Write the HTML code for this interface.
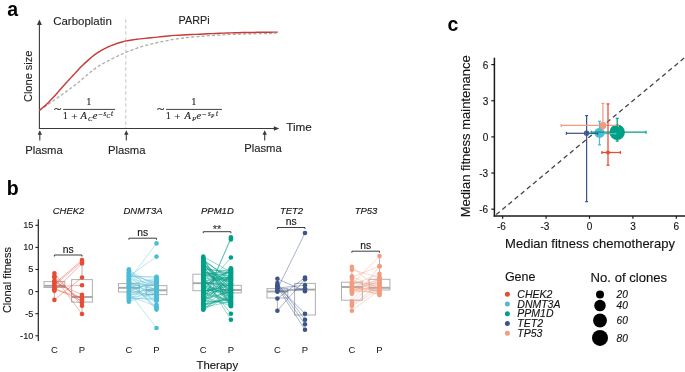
<!DOCTYPE html>
<html><head><meta charset="utf-8"><style>
html,body{margin:0;padding:0;background:#fff;width:685px;height:372px;overflow:hidden}
svg{display:block;will-change:transform}
</style></head><body>
<svg width="685" height="372" viewBox="0 0 685 372">
<rect width="685" height="372" fill="#fff"/>
<text x="7.20" y="15.90" font-size="19.5" text-anchor="start" font-weight="bold" font-style="normal" fill="#000" font-family='"Liberation Sans", sans-serif' >a</text>
<line x1="39.4" y1="24" x2="39.4" y2="128.9" stroke="#3a3a3a" stroke-width="1.1"/>
<polygon points="39.4,19.6 36.9,25 41.9,25" fill="#3a3a3a"/>
<line x1="38.9" y1="128.5" x2="275" y2="128.5" stroke="#3a3a3a" stroke-width="1.1"/>
<polygon points="279.3,128.5 273.8,126.2 273.8,130.8" fill="#3a3a3a"/>
<line x1="125.8" y1="19.3" x2="125.8" y2="128" stroke="#c4c4c4" stroke-width="1" stroke-dasharray="3.5,2.5"/>
<path d="M39.60,110.20 L40.37,109.68 L41.41,108.97 L42.66,108.13 L44.02,107.20 L45.43,106.24 L46.80,105.30 L48.16,104.35 L49.59,103.36 L51.05,102.33 L52.54,101.29 L54.03,100.24 L55.50,99.20 L56.96,98.17 L58.43,97.15 L59.90,96.12 L61.37,95.09 L62.84,94.05 L64.30,93.00 L65.75,91.95 L67.20,90.90 L68.65,89.85 L70.10,88.79 L71.55,87.70 L73.00,86.60 L74.46,85.47 L75.93,84.33 L77.39,83.17 L78.86,82.00 L80.33,80.81 L81.80,79.60 L83.27,78.35 L84.73,77.07 L86.20,75.76 L87.67,74.47 L89.13,73.20 L90.60,72.00 L92.07,70.85 L93.53,69.72 L95.00,68.62 L96.47,67.57 L97.93,66.56 L99.40,65.60 L100.88,64.70 L102.39,63.84 L103.89,63.04 L105.37,62.27 L106.81,61.52 L108.20,60.80 L109.49,60.12 L110.69,59.48 L111.84,58.87 L113.01,58.27 L114.25,57.66 L115.60,57.00 L117.10,56.29 L118.73,55.53 L120.42,54.75 L122.11,53.99 L123.76,53.26 L125.30,52.60 L126.73,52.01 L128.11,51.48 L129.43,50.98 L130.71,50.51 L131.97,50.05 L133.20,49.60 L134.37,49.15 L135.47,48.73 L136.54,48.31 L137.63,47.91 L138.76,47.51 L140.00,47.10 L141.35,46.69 L142.79,46.29 L144.28,45.88 L145.80,45.48 L147.32,45.09 L148.80,44.70 L150.25,44.32 L151.70,43.93 L153.15,43.56 L154.60,43.19 L156.05,42.84 L157.50,42.50 L158.96,42.19 L160.43,41.89 L161.90,41.61 L163.37,41.34 L164.84,41.07 L166.30,40.80 L167.75,40.52 L169.20,40.24 L170.65,39.97 L172.10,39.70 L173.55,39.44 L175.00,39.20 L176.46,38.97 L177.93,38.76 L179.40,38.56 L180.87,38.37 L182.34,38.18 L183.80,38.00 L185.27,37.82 L186.75,37.64 L188.23,37.46 L189.69,37.30 L191.12,37.14 L192.50,37.00 L193.64,36.89 L194.50,36.81 L195.33,36.74 L196.37,36.66 L197.84,36.55 L200.00,36.40 L202.98,36.18 L206.63,35.91 L210.71,35.62 L215.02,35.32 L219.32,35.04 L223.40,34.80 L227.21,34.60 L230.93,34.43 L234.65,34.28 L238.46,34.14 L242.44,34.02 L246.70,33.90 L251.64,33.79 L257.26,33.69 L263.06,33.59 L268.53,33.51 L273.18,33.45 L276.50,33.40" fill="none" stroke="#acacac" stroke-width="1.3" stroke-dasharray="3.1,2.1"/>
<path d="M39.60,110.30 L40.37,109.66 L41.41,108.80 L42.66,107.78 L44.02,106.62 L45.43,105.38 L46.80,104.10 L48.18,102.73 L49.65,101.21 L51.16,99.61 L52.67,97.98 L54.13,96.39 L55.50,94.90 L56.78,93.50 L57.99,92.13 L59.16,90.80 L60.30,89.50 L61.41,88.24 L62.50,87.00 L63.56,85.81 L64.56,84.69 L65.54,83.59 L66.52,82.50 L67.53,81.38 L68.60,80.20 L69.75,78.94 L70.96,77.62 L72.20,76.28 L73.44,74.93 L74.65,73.63 L75.80,72.40 L76.87,71.25 L77.90,70.15 L78.89,69.09 L79.87,68.06 L80.87,67.03 L81.90,66.00 L82.98,64.95 L84.09,63.90 L85.21,62.86 L86.33,61.84 L87.43,60.85 L88.50,59.90 L89.53,58.99 L90.53,58.13 L91.51,57.29 L92.49,56.47 L93.48,55.68 L94.50,54.90 L95.55,54.14 L96.60,53.39 L97.67,52.67 L98.76,51.96 L99.87,51.27 L101.00,50.60 L102.16,49.94 L103.36,49.29 L104.58,48.65 L105.80,48.04 L107.02,47.45 L108.20,46.90 L109.38,46.38 L110.56,45.89 L111.74,45.42 L112.88,44.99 L113.98,44.58 L115.00,44.20 L115.93,43.86 L116.78,43.55 L117.58,43.28 L118.36,43.01 L119.15,42.76 L120.00,42.50 L120.96,42.22 L122.03,41.93 L123.11,41.64 L124.13,41.38 L124.98,41.16 L125.60,41.00 L125.60,41.00 L126.44,40.87 L127.60,40.68 L128.97,40.46 L130.44,40.22 L131.89,40.00 L133.20,39.80 L134.26,39.64 L135.13,39.51 L135.98,39.39 L136.97,39.26 L138.26,39.10 L140.00,38.90 L142.30,38.65 L145.04,38.36 L148.08,38.05 L151.27,37.73 L154.46,37.40 L157.50,37.10 L160.33,36.81 L163.06,36.51 L165.78,36.21 L168.61,35.93 L171.65,35.65 L175.00,35.40 L178.75,35.17 L182.84,34.96 L187.13,34.76 L191.51,34.57 L195.84,34.39 L200.00,34.20 L203.99,34.01 L207.92,33.81 L211.81,33.61 L215.67,33.43 L219.52,33.25 L223.40,33.10 L227.20,32.97 L230.89,32.86 L234.57,32.76 L238.36,32.67 L242.37,32.58 L246.70,32.50 L251.79,32.42 L257.64,32.34 L263.71,32.26 L269.45,32.20 L274.33,32.14 L277.80,32.10" fill="none" stroke="#c73c36" stroke-width="1.45" stroke-linejoin="round"/>
<text x="53.20" y="24.80" font-size="11.2" text-anchor="start" font-weight="normal" font-style="normal" fill="#1e1e1e" stroke="#1e1e1e" stroke-width="0.12" font-family='"Liberation Sans", sans-serif' textLength="58.6" lengthAdjust="spacingAndGlyphs" >Carboplatin</text>
<text x="178.60" y="23.90" font-size="11.2" text-anchor="start" font-weight="normal" font-style="normal" fill="#1e1e1e" stroke="#1e1e1e" stroke-width="0.12" font-family='"Liberation Sans", sans-serif' textLength="31.0" lengthAdjust="spacingAndGlyphs" >PARPi</text>
<text x="0.00" y="0.00" font-size="11.6" text-anchor="middle" font-weight="normal" font-style="normal" fill="#1e1e1e" stroke="#1e1e1e" stroke-width="0.12" font-family='"Liberation Sans", sans-serif' textLength="51.5" lengthAdjust="spacingAndGlyphs" transform="translate(31.6,76.3) rotate(-90)">Clone size</text>
<text x="286.20" y="130.80" font-size="11.2" text-anchor="start" font-weight="normal" font-style="normal" fill="#1e1e1e" stroke="#1e1e1e" stroke-width="0.12" font-family='"Liberation Sans", sans-serif' textLength="25.6" lengthAdjust="spacingAndGlyphs" >Time</text>
<line x1="39.8" y1="133" x2="39.8" y2="140.5" stroke="#3a3a3a" stroke-width="1.1"/>
<polygon points="39.8,130.3 37.599999999999994,134.8 42.0,134.8" fill="#3a3a3a"/>
<text x="25.20" y="153.70" font-size="11.2" text-anchor="start" font-weight="normal" font-style="normal" fill="#1e1e1e" stroke="#1e1e1e" stroke-width="0.12" font-family='"Liberation Sans", sans-serif' textLength="37.6" lengthAdjust="spacingAndGlyphs" >Plasma</text>
<line x1="126.3" y1="133" x2="126.3" y2="140.5" stroke="#3a3a3a" stroke-width="1.1"/>
<polygon points="126.3,130.3 124.1,134.8 128.5,134.8" fill="#3a3a3a"/>
<text x="107.90" y="153.70" font-size="11.2" text-anchor="start" font-weight="normal" font-style="normal" fill="#1e1e1e" stroke="#1e1e1e" stroke-width="0.12" font-family='"Liberation Sans", sans-serif' textLength="37.6" lengthAdjust="spacingAndGlyphs" >Plasma</text>
<line x1="264.7" y1="133" x2="264.7" y2="140.5" stroke="#3a3a3a" stroke-width="1.1"/>
<polygon points="264.7,130.3 262.5,134.8 266.9,134.8" fill="#3a3a3a"/>
<text x="244.20" y="151.60" font-size="11.2" text-anchor="start" font-weight="normal" font-style="normal" fill="#1e1e1e" stroke="#1e1e1e" stroke-width="0.12" font-family='"Liberation Sans", sans-serif' textLength="37.6" lengthAdjust="spacingAndGlyphs" >Plasma</text>
<text x="54.00" y="113.2" font-size="13" fill="#1e1e1e" stroke="#1e1e1e" stroke-width="0.2" font-family='"Liberation Serif", serif' transform="translate(54.00,0) scale(1.05,1) translate(-54.00,0)">~</text>
<line x1="63.1" y1="109.4" x2="115.0" y2="109.4" stroke="#1e1e1e" stroke-width="0.85"/>
<text x="86.55" y="104.80" font-size="9.4" font-style="normal" fill="#1e1e1e" stroke="#1e1e1e" stroke-width="0.15" font-family='"Liberation Serif", serif'>1</text>
<text x="62.90" y="118.90" font-size="9.4" font-style="normal" fill="#1e1e1e" stroke="#1e1e1e" stroke-width="0.15" font-family='"Liberation Serif", serif'>1</text>
<text x="71.20" y="119.50" font-size="11.2" font-style="normal" fill="#1e1e1e" stroke="#1e1e1e" stroke-width="0.15" font-family='"Liberation Serif", serif'>+</text>
<text x="80.50" y="118.90" font-size="10.4" font-style="italic" fill="#1e1e1e" stroke="#1e1e1e" stroke-width="0.15" font-family='"Liberation Serif", serif'>A</text>
<text x="88.10" y="121.40" font-size="6.8" font-style="italic" fill="#1e1e1e" stroke="#1e1e1e" stroke-width="0.15" font-family='"Liberation Serif", serif'>C</text>
<text x="92.70" y="118.90" font-size="10.4" font-style="italic" fill="#1e1e1e" stroke="#1e1e1e" stroke-width="0.15" font-family='"Liberation Serif", serif'>e</text>
<text x="98.30" y="116.60" font-size="8" font-style="normal" fill="#1e1e1e" stroke="#1e1e1e" stroke-width="0.15" font-family='"Liberation Serif", serif'>−</text>
<text x="103.60" y="115.80" font-size="7.2" font-style="italic" fill="#1e1e1e" stroke="#1e1e1e" stroke-width="0.15" font-family='"Liberation Serif", serif'>s</text>
<text x="106.50" y="117.90" font-size="5.4" font-style="italic" fill="#1e1e1e" stroke="#1e1e1e" stroke-width="0.15" font-family='"Liberation Serif", serif'>C</text>
<text x="110.90" y="115.80" font-size="7.2" font-style="italic" fill="#1e1e1e" stroke="#1e1e1e" stroke-width="0.15" font-family='"Liberation Serif", serif'>t</text>
<text x="157.00" y="113.2" font-size="13" fill="#1e1e1e" stroke="#1e1e1e" stroke-width="0.2" font-family='"Liberation Serif", serif' transform="translate(157.00,0) scale(1.05,1) translate(-157.00,0)">~</text>
<line x1="166.1" y1="109.4" x2="222.0" y2="109.4" stroke="#1e1e1e" stroke-width="0.85"/>
<text x="191.55" y="104.80" font-size="9.4" font-style="normal" fill="#1e1e1e" stroke="#1e1e1e" stroke-width="0.15" font-family='"Liberation Serif", serif'>1</text>
<text x="165.90" y="118.90" font-size="9.4" font-style="normal" fill="#1e1e1e" stroke="#1e1e1e" stroke-width="0.15" font-family='"Liberation Serif", serif'>1</text>
<text x="174.20" y="119.50" font-size="11.2" font-style="normal" fill="#1e1e1e" stroke="#1e1e1e" stroke-width="0.15" font-family='"Liberation Serif", serif'>+</text>
<text x="184.50" y="118.90" font-size="10.4" font-style="italic" fill="#1e1e1e" stroke="#1e1e1e" stroke-width="0.15" font-family='"Liberation Serif", serif'>A</text>
<text x="192.10" y="121.40" font-size="6.8" font-style="italic" fill="#1e1e1e" stroke="#1e1e1e" stroke-width="0.15" font-family='"Liberation Serif", serif'>P</text>
<text x="196.50" y="118.90" font-size="10.4" font-style="italic" fill="#1e1e1e" stroke="#1e1e1e" stroke-width="0.15" font-family='"Liberation Serif", serif'>e</text>
<text x="202.10" y="116.60" font-size="8" font-style="normal" fill="#1e1e1e" stroke="#1e1e1e" stroke-width="0.15" font-family='"Liberation Serif", serif'>−</text>
<text x="208.00" y="115.80" font-size="7.2" font-style="italic" fill="#1e1e1e" stroke="#1e1e1e" stroke-width="0.15" font-family='"Liberation Serif", serif'>s</text>
<text x="210.90" y="117.90" font-size="5.4" font-style="italic" fill="#1e1e1e" stroke="#1e1e1e" stroke-width="0.15" font-family='"Liberation Serif", serif'>P</text>
<text x="216.10" y="115.80" font-size="7.2" font-style="italic" fill="#1e1e1e" stroke="#1e1e1e" stroke-width="0.15" font-family='"Liberation Serif", serif'>t</text>
<text x="6.80" y="194.80" font-size="19.5" text-anchor="start" font-weight="bold" font-style="normal" fill="#000" font-family='"Liberation Sans", sans-serif' >b</text>
<line x1="38.3" y1="219.3" x2="38.3" y2="341" stroke="#222" stroke-width="1.2"/>
<line x1="35.4" y1="225.30" x2="38.3" y2="225.30" stroke="#222" stroke-width="1.1"/>
<text x="33.40" y="228.20" font-size="9.2" text-anchor="end" font-weight="normal" font-style="normal" fill="#1a1a1a" stroke="#1a1a1a" stroke-width="0.12" font-family='"Liberation Sans", sans-serif' >15</text>
<line x1="35.4" y1="247.40" x2="38.3" y2="247.40" stroke="#222" stroke-width="1.1"/>
<text x="33.40" y="250.30" font-size="9.2" text-anchor="end" font-weight="normal" font-style="normal" fill="#1a1a1a" stroke="#1a1a1a" stroke-width="0.12" font-family='"Liberation Sans", sans-serif' >10</text>
<line x1="35.4" y1="269.50" x2="38.3" y2="269.50" stroke="#222" stroke-width="1.1"/>
<text x="33.40" y="272.40" font-size="9.2" text-anchor="end" font-weight="normal" font-style="normal" fill="#1a1a1a" stroke="#1a1a1a" stroke-width="0.12" font-family='"Liberation Sans", sans-serif' >5</text>
<line x1="35.4" y1="291.60" x2="38.3" y2="291.60" stroke="#222" stroke-width="1.1"/>
<text x="33.40" y="294.50" font-size="9.2" text-anchor="end" font-weight="normal" font-style="normal" fill="#1a1a1a" stroke="#1a1a1a" stroke-width="0.12" font-family='"Liberation Sans", sans-serif' >0</text>
<line x1="35.4" y1="313.70" x2="38.3" y2="313.70" stroke="#222" stroke-width="1.1"/>
<text x="33.40" y="316.60" font-size="9.2" text-anchor="end" font-weight="normal" font-style="normal" fill="#1a1a1a" stroke="#1a1a1a" stroke-width="0.12" font-family='"Liberation Sans", sans-serif' >-5</text>
<line x1="35.4" y1="335.80" x2="38.3" y2="335.80" stroke="#222" stroke-width="1.1"/>
<text x="33.40" y="338.70" font-size="9.2" text-anchor="end" font-weight="normal" font-style="normal" fill="#1a1a1a" stroke="#1a1a1a" stroke-width="0.12" font-family='"Liberation Sans", sans-serif' >-10</text>
<text x="0.00" y="0.00" font-size="11" text-anchor="middle" font-weight="normal" font-style="normal" fill="#111" stroke="#111" stroke-width="0.12" font-family='"Liberation Sans", sans-serif' transform="translate(10.6,280.1) rotate(-90)">Clonal fitness</text>
<text x="217.30" y="369.10" font-size="11.2" text-anchor="middle" font-weight="normal" font-style="normal" fill="#111" stroke="#111" stroke-width="0.12" font-family='"Liberation Sans", sans-serif' textLength="41.6" lengthAdjust="spacingAndGlyphs" >Therapy</text>
<text x="68.50" y="213.70" font-size="9.5" text-anchor="middle" font-weight="normal" font-style="italic" fill="#111" stroke="#111" stroke-width="0.12" font-family='"Liberation Sans", sans-serif' >CHEK2</text>
<text x="54.40" y="352.80" font-size="9.5" text-anchor="middle" font-weight="normal" font-style="normal" fill="#111" font-family='"Liberation Sans", sans-serif' >C</text>
<text x="82.00" y="352.80" font-size="9.5" text-anchor="middle" font-weight="normal" font-style="normal" fill="#111" font-family='"Liberation Sans", sans-serif' >P</text>
<text x="143.00" y="213.70" font-size="9.5" text-anchor="middle" font-weight="normal" font-style="italic" fill="#111" stroke="#111" stroke-width="0.12" font-family='"Liberation Sans", sans-serif' >DNMT3A</text>
<text x="128.90" y="352.80" font-size="9.5" text-anchor="middle" font-weight="normal" font-style="normal" fill="#111" font-family='"Liberation Sans", sans-serif' >C</text>
<text x="156.50" y="352.80" font-size="9.5" text-anchor="middle" font-weight="normal" font-style="normal" fill="#111" font-family='"Liberation Sans", sans-serif' >P</text>
<text x="217.40" y="213.70" font-size="9.5" text-anchor="middle" font-weight="normal" font-style="italic" fill="#111" stroke="#111" stroke-width="0.12" font-family='"Liberation Sans", sans-serif' >PPM1D</text>
<text x="203.30" y="352.80" font-size="9.5" text-anchor="middle" font-weight="normal" font-style="normal" fill="#111" font-family='"Liberation Sans", sans-serif' >C</text>
<text x="230.90" y="352.80" font-size="9.5" text-anchor="middle" font-weight="normal" font-style="normal" fill="#111" font-family='"Liberation Sans", sans-serif' >P</text>
<text x="291.50" y="213.70" font-size="9.5" text-anchor="middle" font-weight="normal" font-style="italic" fill="#111" stroke="#111" stroke-width="0.12" font-family='"Liberation Sans", sans-serif' >TET2</text>
<text x="277.40" y="352.80" font-size="9.5" text-anchor="middle" font-weight="normal" font-style="normal" fill="#111" font-family='"Liberation Sans", sans-serif' >C</text>
<text x="305.00" y="352.80" font-size="9.5" text-anchor="middle" font-weight="normal" font-style="normal" fill="#111" font-family='"Liberation Sans", sans-serif' >P</text>
<text x="366.00" y="213.70" font-size="9.5" text-anchor="middle" font-weight="normal" font-style="italic" fill="#111" stroke="#111" stroke-width="0.12" font-family='"Liberation Sans", sans-serif' >TP53</text>
<text x="351.90" y="352.80" font-size="9.5" text-anchor="middle" font-weight="normal" font-style="normal" fill="#111" font-family='"Liberation Sans", sans-serif' >C</text>
<text x="379.50" y="352.80" font-size="9.5" text-anchor="middle" font-weight="normal" font-style="normal" fill="#111" font-family='"Liberation Sans", sans-serif' >P</text>
<line x1="54.4" y1="273.3" x2="54.4" y2="281.6" stroke="#b4b4b4" stroke-width="1"/>
<line x1="54.4" y1="287.5" x2="54.4" y2="299.9" stroke="#b4b4b4" stroke-width="1"/>
<rect x="44.00" y="281.6" width="20.8" height="5.90" fill="none" stroke="#b0b0b0" stroke-width="1"/>
<line x1="44.00" y1="285.8" x2="64.80" y2="285.8" stroke="#a8a8a8" stroke-width="1.9"/>
<line x1="82.0" y1="260.1" x2="82.0" y2="279.6" stroke="#b4b4b4" stroke-width="1"/>
<line x1="82.0" y1="302.1" x2="82.0" y2="314" stroke="#b4b4b4" stroke-width="1"/>
<rect x="71.60" y="279.6" width="20.8" height="22.50" fill="none" stroke="#b0b0b0" stroke-width="1"/>
<line x1="71.60" y1="297" x2="92.40" y2="297" stroke="#a8a8a8" stroke-width="1.9"/>
<g stroke="#E64B35" stroke-width="0.6" stroke-opacity="0.7"><line x1="54.4" y1="273.30" x2="82.0" y2="305.80"/><line x1="54.4" y1="276.20" x2="82.0" y2="302.50"/><line x1="54.4" y1="277.20" x2="82.0" y2="314.00"/><line x1="54.4" y1="280.50" x2="82.0" y2="299.40"/><line x1="54.4" y1="282.30" x2="82.0" y2="294.80"/><line x1="54.4" y1="283.80" x2="82.0" y2="260.10"/><line x1="54.4" y1="285.20" x2="82.0" y2="261.80"/><line x1="54.4" y1="286.70" x2="82.0" y2="285.20"/><line x1="54.4" y1="288.20" x2="82.0" y2="301.10"/><line x1="54.4" y1="289.50" x2="82.0" y2="297.50"/><line x1="54.4" y1="290.80" x2="82.0" y2="263.50"/><line x1="54.4" y1="299.90" x2="82.0" y2="277.50"/></g>
<g fill="#E64B35"><circle cx="54.4" cy="273.30" r="2.3"/><circle cx="82.0" cy="305.80" r="2.3"/><circle cx="54.4" cy="276.20" r="2.3"/><circle cx="82.0" cy="302.50" r="2.3"/><circle cx="54.4" cy="277.20" r="2.3"/><circle cx="82.0" cy="314.00" r="2.3"/><circle cx="54.4" cy="280.50" r="2.3"/><circle cx="82.0" cy="299.40" r="2.3"/><circle cx="54.4" cy="282.30" r="2.3"/><circle cx="82.0" cy="294.80" r="2.3"/><circle cx="54.4" cy="283.80" r="2.3"/><circle cx="82.0" cy="260.10" r="2.3"/><circle cx="54.4" cy="285.20" r="2.3"/><circle cx="82.0" cy="261.80" r="2.3"/><circle cx="54.4" cy="286.70" r="2.3"/><circle cx="82.0" cy="285.20" r="2.3"/><circle cx="54.4" cy="288.20" r="2.3"/><circle cx="82.0" cy="301.10" r="2.3"/><circle cx="54.4" cy="289.50" r="2.3"/><circle cx="82.0" cy="297.50" r="2.3"/><circle cx="54.4" cy="290.80" r="2.3"/><circle cx="82.0" cy="263.50" r="2.3"/><circle cx="54.4" cy="299.90" r="2.3"/><circle cx="82.0" cy="277.50" r="2.3"/></g>
<line x1="128.9" y1="269.4" x2="128.9" y2="283.6" stroke="#b4b4b4" stroke-width="1"/>
<line x1="128.9" y1="292" x2="128.9" y2="301.9" stroke="#b4b4b4" stroke-width="1"/>
<rect x="118.50" y="283.6" width="20.8" height="8.40" fill="none" stroke="#b0b0b0" stroke-width="1"/>
<line x1="118.50" y1="287.8" x2="139.30" y2="287.8" stroke="#a8a8a8" stroke-width="1.9"/>
<line x1="156.5" y1="277.1" x2="156.5" y2="285.6" stroke="#b4b4b4" stroke-width="1"/>
<line x1="156.5" y1="294.6" x2="156.5" y2="309" stroke="#b4b4b4" stroke-width="1"/>
<rect x="146.10" y="285.6" width="20.8" height="9.00" fill="none" stroke="#b0b0b0" stroke-width="1"/>
<line x1="146.10" y1="290.3" x2="166.90" y2="290.3" stroke="#a8a8a8" stroke-width="1.9"/>
<g stroke="#4DBBD5" stroke-width="0.6" stroke-opacity="0.62"><line x1="128.9" y1="297.10" x2="156.5" y2="294.12"/><line x1="128.9" y1="293.82" x2="156.5" y2="294.75"/><line x1="128.9" y1="281.16" x2="156.5" y2="295.35"/><line x1="128.9" y1="291.88" x2="156.5" y2="280.46"/><line x1="128.9" y1="287.91" x2="156.5" y2="278.84"/><line x1="128.9" y1="299.65" x2="156.5" y2="281.23"/><line x1="128.9" y1="284.42" x2="156.5" y2="278.25"/><line x1="128.9" y1="289.92" x2="156.5" y2="282.95"/><line x1="128.9" y1="278.55" x2="156.5" y2="290.27"/><line x1="128.9" y1="286.18" x2="156.5" y2="299.62"/><line x1="128.9" y1="275.46" x2="156.5" y2="282.16"/><line x1="128.9" y1="279.62" x2="156.5" y2="298.38"/><line x1="128.9" y1="288.63" x2="156.5" y2="300.78"/><line x1="128.9" y1="292.88" x2="156.5" y2="288.19"/><line x1="128.9" y1="273.28" x2="156.5" y2="283.94"/><line x1="128.9" y1="282.82" x2="156.5" y2="307.59"/><line x1="128.9" y1="278.06" x2="156.5" y2="285.53"/><line x1="128.9" y1="300.82" x2="156.5" y2="287.73"/><line x1="128.9" y1="272.82" x2="156.5" y2="297.29"/><line x1="128.9" y1="275.91" x2="156.5" y2="277.35"/><line x1="128.9" y1="291.31" x2="156.5" y2="279.75"/><line x1="128.9" y1="294.54" x2="156.5" y2="292.48"/><line x1="128.9" y1="280.22" x2="156.5" y2="307.96"/><line x1="128.9" y1="274.08" x2="156.5" y2="304.81"/><line x1="128.9" y1="270.26" x2="156.5" y2="286.27"/><line x1="128.9" y1="297.70" x2="156.5" y2="300.16"/><line x1="128.9" y1="285.39" x2="156.5" y2="284.59"/><line x1="128.9" y1="271.97" x2="156.5" y2="291.02"/><line x1="128.9" y1="295.51" x2="156.5" y2="287.14"/><line x1="128.9" y1="269.23" x2="156.5" y2="296.00"/><line x1="128.9" y1="276.72" x2="156.5" y2="276.89"/><line x1="128.9" y1="301.71" x2="156.5" y2="292.95"/><line x1="128.9" y1="281.67" x2="156.5" y2="309.60"/><line x1="128.9" y1="296.00" x2="156.5" y2="306.37"/><line x1="128.9" y1="283.81" x2="156.5" y2="289.42"/><line x1="128.9" y1="298.86" x2="156.5" y2="298.16"/><line x1="128.9" y1="286.61" x2="156.5" y2="291.60"/><line x1="128.9" y1="280.00" x2="156.5" y2="243.40"/><line x1="128.9" y1="276.50" x2="156.5" y2="256.60"/><line x1="128.9" y1="292.00" x2="156.5" y2="328.00"/></g>
<g fill="#4DBBD5"><circle cx="128.9" cy="297.10" r="2.3"/><circle cx="156.5" cy="294.12" r="2.3"/><circle cx="128.9" cy="293.82" r="2.3"/><circle cx="156.5" cy="294.75" r="2.3"/><circle cx="128.9" cy="281.16" r="2.3"/><circle cx="156.5" cy="295.35" r="2.3"/><circle cx="128.9" cy="291.88" r="2.3"/><circle cx="156.5" cy="280.46" r="2.3"/><circle cx="128.9" cy="287.91" r="2.3"/><circle cx="156.5" cy="278.84" r="2.3"/><circle cx="128.9" cy="299.65" r="2.3"/><circle cx="156.5" cy="281.23" r="2.3"/><circle cx="128.9" cy="284.42" r="2.3"/><circle cx="156.5" cy="278.25" r="2.3"/><circle cx="128.9" cy="289.92" r="2.3"/><circle cx="156.5" cy="282.95" r="2.3"/><circle cx="128.9" cy="278.55" r="2.3"/><circle cx="156.5" cy="290.27" r="2.3"/><circle cx="128.9" cy="286.18" r="2.3"/><circle cx="156.5" cy="299.62" r="2.3"/><circle cx="128.9" cy="275.46" r="2.3"/><circle cx="156.5" cy="282.16" r="2.3"/><circle cx="128.9" cy="279.62" r="2.3"/><circle cx="156.5" cy="298.38" r="2.3"/><circle cx="128.9" cy="288.63" r="2.3"/><circle cx="156.5" cy="300.78" r="2.3"/><circle cx="128.9" cy="292.88" r="2.3"/><circle cx="156.5" cy="288.19" r="2.3"/><circle cx="128.9" cy="273.28" r="2.3"/><circle cx="156.5" cy="283.94" r="2.3"/><circle cx="128.9" cy="282.82" r="2.3"/><circle cx="156.5" cy="307.59" r="2.3"/><circle cx="128.9" cy="278.06" r="2.3"/><circle cx="156.5" cy="285.53" r="2.3"/><circle cx="128.9" cy="300.82" r="2.3"/><circle cx="156.5" cy="287.73" r="2.3"/><circle cx="128.9" cy="272.82" r="2.3"/><circle cx="156.5" cy="297.29" r="2.3"/><circle cx="128.9" cy="275.91" r="2.3"/><circle cx="156.5" cy="277.35" r="2.3"/><circle cx="128.9" cy="291.31" r="2.3"/><circle cx="156.5" cy="279.75" r="2.3"/><circle cx="128.9" cy="294.54" r="2.3"/><circle cx="156.5" cy="292.48" r="2.3"/><circle cx="128.9" cy="280.22" r="2.3"/><circle cx="156.5" cy="307.96" r="2.3"/><circle cx="128.9" cy="274.08" r="2.3"/><circle cx="156.5" cy="304.81" r="2.3"/><circle cx="128.9" cy="270.26" r="2.3"/><circle cx="156.5" cy="286.27" r="2.3"/><circle cx="128.9" cy="297.70" r="2.3"/><circle cx="156.5" cy="300.16" r="2.3"/><circle cx="128.9" cy="285.39" r="2.3"/><circle cx="156.5" cy="284.59" r="2.3"/><circle cx="128.9" cy="271.97" r="2.3"/><circle cx="156.5" cy="291.02" r="2.3"/><circle cx="128.9" cy="295.51" r="2.3"/><circle cx="156.5" cy="287.14" r="2.3"/><circle cx="128.9" cy="269.23" r="2.3"/><circle cx="156.5" cy="296.00" r="2.3"/><circle cx="128.9" cy="276.72" r="2.3"/><circle cx="156.5" cy="276.89" r="2.3"/><circle cx="128.9" cy="301.71" r="2.3"/><circle cx="156.5" cy="292.95" r="2.3"/><circle cx="128.9" cy="281.67" r="2.3"/><circle cx="156.5" cy="309.60" r="2.3"/><circle cx="128.9" cy="296.00" r="2.3"/><circle cx="156.5" cy="306.37" r="2.3"/><circle cx="128.9" cy="283.81" r="2.3"/><circle cx="156.5" cy="289.42" r="2.3"/><circle cx="128.9" cy="298.86" r="2.3"/><circle cx="156.5" cy="298.16" r="2.3"/><circle cx="128.9" cy="286.61" r="2.3"/><circle cx="156.5" cy="291.60" r="2.3"/><circle cx="128.9" cy="280.00" r="2.3"/><circle cx="156.5" cy="243.40" r="2.3"/><circle cx="128.9" cy="276.50" r="2.3"/><circle cx="156.5" cy="256.60" r="2.3"/><circle cx="128.9" cy="292.00" r="2.3"/><circle cx="156.5" cy="328.00" r="2.3"/></g>
<line x1="203.3" y1="256.4" x2="203.3" y2="274.2" stroke="#b4b4b4" stroke-width="1"/>
<line x1="203.3" y1="290.7" x2="203.3" y2="309.8" stroke="#b4b4b4" stroke-width="1"/>
<rect x="192.90" y="274.2" width="20.8" height="16.50" fill="none" stroke="#b0b0b0" stroke-width="1"/>
<line x1="192.90" y1="283.2" x2="213.70" y2="283.2" stroke="#a8a8a8" stroke-width="1.9"/>
<line x1="230.9" y1="268.2" x2="230.9" y2="285.3" stroke="#b4b4b4" stroke-width="1"/>
<line x1="230.9" y1="292.9" x2="230.9" y2="306.4" stroke="#b4b4b4" stroke-width="1"/>
<rect x="220.50" y="285.3" width="20.8" height="7.60" fill="none" stroke="#b0b0b0" stroke-width="1"/>
<line x1="220.50" y1="290" x2="241.30" y2="290" stroke="#a8a8a8" stroke-width="1.9"/>
<g stroke="#00A087" stroke-width="0.6" stroke-opacity="0.72"><line x1="203.3" y1="307.43" x2="230.9" y2="301.39"/><line x1="203.3" y1="274.46" x2="230.9" y2="280.64"/><line x1="203.3" y1="296.69" x2="230.9" y2="269.81"/><line x1="203.3" y1="264.97" x2="230.9" y2="287.96"/><line x1="203.3" y1="258.06" x2="230.9" y2="306.23"/><line x1="203.3" y1="299.17" x2="230.9" y2="273.67"/><line x1="203.3" y1="277.08" x2="230.9" y2="277.43"/><line x1="203.3" y1="282.98" x2="230.9" y2="284.20"/><line x1="203.3" y1="275.43" x2="230.9" y2="269.07"/><line x1="203.3" y1="281.56" x2="230.9" y2="299.44"/><line x1="203.3" y1="300.93" x2="230.9" y2="276.57"/><line x1="203.3" y1="293.35" x2="230.9" y2="269.22"/><line x1="203.3" y1="266.81" x2="230.9" y2="283.47"/><line x1="203.3" y1="256.66" x2="230.9" y2="272.00"/><line x1="203.3" y1="262.07" x2="230.9" y2="303.85"/><line x1="203.3" y1="260.28" x2="230.9" y2="294.61"/><line x1="203.3" y1="292.58" x2="230.9" y2="300.86"/><line x1="203.3" y1="307.13" x2="230.9" y2="274.64"/><line x1="203.3" y1="278.87" x2="230.9" y2="278.61"/><line x1="203.3" y1="258.79" x2="230.9" y2="281.96"/><line x1="203.3" y1="259.34" x2="230.9" y2="295.45"/><line x1="203.3" y1="272.76" x2="230.9" y2="304.31"/><line x1="203.3" y1="284.56" x2="230.9" y2="295.89"/><line x1="203.3" y1="261.16" x2="230.9" y2="277.74"/><line x1="203.3" y1="266.45" x2="230.9" y2="299.93"/><line x1="203.3" y1="304.94" x2="230.9" y2="298.49"/><line x1="203.3" y1="299.53" x2="230.9" y2="291.96"/><line x1="203.3" y1="269.83" x2="230.9" y2="290.19"/><line x1="203.3" y1="289.87" x2="230.9" y2="292.37"/><line x1="203.3" y1="270.16" x2="230.9" y2="290.98"/><line x1="203.3" y1="272.37" x2="230.9" y2="275.96"/><line x1="203.3" y1="265.78" x2="230.9" y2="305.39"/><line x1="203.3" y1="263.60" x2="230.9" y2="284.78"/><line x1="203.3" y1="274.77" x2="230.9" y2="281.82"/><line x1="203.3" y1="287.75" x2="230.9" y2="296.71"/><line x1="203.3" y1="294.80" x2="230.9" y2="287.68"/><line x1="203.3" y1="309.79" x2="230.9" y2="295.09"/><line x1="203.3" y1="267.58" x2="230.9" y2="296.32"/><line x1="203.3" y1="308.42" x2="230.9" y2="292.91"/><line x1="203.3" y1="303.94" x2="230.9" y2="278.18"/><line x1="203.3" y1="269.25" x2="230.9" y2="271.28"/><line x1="203.3" y1="287.41" x2="230.9" y2="293.30"/><line x1="203.3" y1="288.75" x2="230.9" y2="268.22"/><line x1="203.3" y1="309.10" x2="230.9" y2="289.21"/><line x1="203.3" y1="281.04" x2="230.9" y2="279.24"/><line x1="203.3" y1="282.36" x2="230.9" y2="271.02"/><line x1="203.3" y1="305.60" x2="230.9" y2="297.97"/><line x1="203.3" y1="273.35" x2="230.9" y2="272.35"/><line x1="203.3" y1="289.23" x2="230.9" y2="302.35"/><line x1="203.3" y1="297.97" x2="230.9" y2="283.26"/><line x1="203.3" y1="304.60" x2="230.9" y2="297.27"/><line x1="203.3" y1="260.09" x2="230.9" y2="280.16"/><line x1="203.3" y1="300.20" x2="230.9" y2="303.25"/><line x1="203.3" y1="268.26" x2="230.9" y2="273.24"/><line x1="203.3" y1="276.48" x2="230.9" y2="272.74"/><line x1="203.3" y1="291.84" x2="230.9" y2="282.63"/><line x1="203.3" y1="271.46" x2="230.9" y2="279.82"/><line x1="203.3" y1="291.27" x2="230.9" y2="285.14"/><line x1="203.3" y1="264.44" x2="230.9" y2="288.51"/><line x1="203.3" y1="263.35" x2="230.9" y2="285.92"/><line x1="203.3" y1="296.92" x2="230.9" y2="305.77"/><line x1="203.3" y1="262.57" x2="230.9" y2="298.78"/><line x1="203.3" y1="278.43" x2="230.9" y2="280.99"/><line x1="203.3" y1="284.01" x2="230.9" y2="276.12"/><line x1="203.3" y1="286.59" x2="230.9" y2="290.47"/><line x1="203.3" y1="293.66" x2="230.9" y2="301.73"/><line x1="203.3" y1="271.15" x2="230.9" y2="289.65"/><line x1="203.3" y1="301.99" x2="230.9" y2="300.39"/><line x1="203.3" y1="290.79" x2="230.9" y2="286.54"/><line x1="203.3" y1="303.19" x2="230.9" y2="274.13"/><line x1="203.3" y1="306.34" x2="230.9" y2="286.92"/><line x1="203.3" y1="285.20" x2="230.9" y2="304.65"/><line x1="203.3" y1="285.82" x2="230.9" y2="270.41"/><line x1="203.3" y1="298.41" x2="230.9" y2="291.56"/><line x1="203.3" y1="280.00" x2="230.9" y2="302.68"/><line x1="203.3" y1="294.96" x2="230.9" y2="275.35"/><line x1="203.3" y1="279.59" x2="230.9" y2="293.88"/><line x1="203.3" y1="283.32" x2="230.9" y2="285.69"/><line x1="203.3" y1="304.00" x2="230.9" y2="237.20"/><line x1="203.3" y1="300.00" x2="230.9" y2="239.40"/><line x1="203.3" y1="290.00" x2="230.9" y2="257.50"/><line x1="203.3" y1="279.00" x2="230.9" y2="313.70"/><line x1="203.3" y1="276.00" x2="230.9" y2="319.70"/></g>
<g fill="#00A087"><circle cx="203.3" cy="307.43" r="2.3"/><circle cx="230.9" cy="301.39" r="2.3"/><circle cx="203.3" cy="274.46" r="2.3"/><circle cx="230.9" cy="280.64" r="2.3"/><circle cx="203.3" cy="296.69" r="2.3"/><circle cx="230.9" cy="269.81" r="2.3"/><circle cx="203.3" cy="264.97" r="2.3"/><circle cx="230.9" cy="287.96" r="2.3"/><circle cx="203.3" cy="258.06" r="2.3"/><circle cx="230.9" cy="306.23" r="2.3"/><circle cx="203.3" cy="299.17" r="2.3"/><circle cx="230.9" cy="273.67" r="2.3"/><circle cx="203.3" cy="277.08" r="2.3"/><circle cx="230.9" cy="277.43" r="2.3"/><circle cx="203.3" cy="282.98" r="2.3"/><circle cx="230.9" cy="284.20" r="2.3"/><circle cx="203.3" cy="275.43" r="2.3"/><circle cx="230.9" cy="269.07" r="2.3"/><circle cx="203.3" cy="281.56" r="2.3"/><circle cx="230.9" cy="299.44" r="2.3"/><circle cx="203.3" cy="300.93" r="2.3"/><circle cx="230.9" cy="276.57" r="2.3"/><circle cx="203.3" cy="293.35" r="2.3"/><circle cx="230.9" cy="269.22" r="2.3"/><circle cx="203.3" cy="266.81" r="2.3"/><circle cx="230.9" cy="283.47" r="2.3"/><circle cx="203.3" cy="256.66" r="2.3"/><circle cx="230.9" cy="272.00" r="2.3"/><circle cx="203.3" cy="262.07" r="2.3"/><circle cx="230.9" cy="303.85" r="2.3"/><circle cx="203.3" cy="260.28" r="2.3"/><circle cx="230.9" cy="294.61" r="2.3"/><circle cx="203.3" cy="292.58" r="2.3"/><circle cx="230.9" cy="300.86" r="2.3"/><circle cx="203.3" cy="307.13" r="2.3"/><circle cx="230.9" cy="274.64" r="2.3"/><circle cx="203.3" cy="278.87" r="2.3"/><circle cx="230.9" cy="278.61" r="2.3"/><circle cx="203.3" cy="258.79" r="2.3"/><circle cx="230.9" cy="281.96" r="2.3"/><circle cx="203.3" cy="259.34" r="2.3"/><circle cx="230.9" cy="295.45" r="2.3"/><circle cx="203.3" cy="272.76" r="2.3"/><circle cx="230.9" cy="304.31" r="2.3"/><circle cx="203.3" cy="284.56" r="2.3"/><circle cx="230.9" cy="295.89" r="2.3"/><circle cx="203.3" cy="261.16" r="2.3"/><circle cx="230.9" cy="277.74" r="2.3"/><circle cx="203.3" cy="266.45" r="2.3"/><circle cx="230.9" cy="299.93" r="2.3"/><circle cx="203.3" cy="304.94" r="2.3"/><circle cx="230.9" cy="298.49" r="2.3"/><circle cx="203.3" cy="299.53" r="2.3"/><circle cx="230.9" cy="291.96" r="2.3"/><circle cx="203.3" cy="269.83" r="2.3"/><circle cx="230.9" cy="290.19" r="2.3"/><circle cx="203.3" cy="289.87" r="2.3"/><circle cx="230.9" cy="292.37" r="2.3"/><circle cx="203.3" cy="270.16" r="2.3"/><circle cx="230.9" cy="290.98" r="2.3"/><circle cx="203.3" cy="272.37" r="2.3"/><circle cx="230.9" cy="275.96" r="2.3"/><circle cx="203.3" cy="265.78" r="2.3"/><circle cx="230.9" cy="305.39" r="2.3"/><circle cx="203.3" cy="263.60" r="2.3"/><circle cx="230.9" cy="284.78" r="2.3"/><circle cx="203.3" cy="274.77" r="2.3"/><circle cx="230.9" cy="281.82" r="2.3"/><circle cx="203.3" cy="287.75" r="2.3"/><circle cx="230.9" cy="296.71" r="2.3"/><circle cx="203.3" cy="294.80" r="2.3"/><circle cx="230.9" cy="287.68" r="2.3"/><circle cx="203.3" cy="309.79" r="2.3"/><circle cx="230.9" cy="295.09" r="2.3"/><circle cx="203.3" cy="267.58" r="2.3"/><circle cx="230.9" cy="296.32" r="2.3"/><circle cx="203.3" cy="308.42" r="2.3"/><circle cx="230.9" cy="292.91" r="2.3"/><circle cx="203.3" cy="303.94" r="2.3"/><circle cx="230.9" cy="278.18" r="2.3"/><circle cx="203.3" cy="269.25" r="2.3"/><circle cx="230.9" cy="271.28" r="2.3"/><circle cx="203.3" cy="287.41" r="2.3"/><circle cx="230.9" cy="293.30" r="2.3"/><circle cx="203.3" cy="288.75" r="2.3"/><circle cx="230.9" cy="268.22" r="2.3"/><circle cx="203.3" cy="309.10" r="2.3"/><circle cx="230.9" cy="289.21" r="2.3"/><circle cx="203.3" cy="281.04" r="2.3"/><circle cx="230.9" cy="279.24" r="2.3"/><circle cx="203.3" cy="282.36" r="2.3"/><circle cx="230.9" cy="271.02" r="2.3"/><circle cx="203.3" cy="305.60" r="2.3"/><circle cx="230.9" cy="297.97" r="2.3"/><circle cx="203.3" cy="273.35" r="2.3"/><circle cx="230.9" cy="272.35" r="2.3"/><circle cx="203.3" cy="289.23" r="2.3"/><circle cx="230.9" cy="302.35" r="2.3"/><circle cx="203.3" cy="297.97" r="2.3"/><circle cx="230.9" cy="283.26" r="2.3"/><circle cx="203.3" cy="304.60" r="2.3"/><circle cx="230.9" cy="297.27" r="2.3"/><circle cx="203.3" cy="260.09" r="2.3"/><circle cx="230.9" cy="280.16" r="2.3"/><circle cx="203.3" cy="300.20" r="2.3"/><circle cx="230.9" cy="303.25" r="2.3"/><circle cx="203.3" cy="268.26" r="2.3"/><circle cx="230.9" cy="273.24" r="2.3"/><circle cx="203.3" cy="276.48" r="2.3"/><circle cx="230.9" cy="272.74" r="2.3"/><circle cx="203.3" cy="291.84" r="2.3"/><circle cx="230.9" cy="282.63" r="2.3"/><circle cx="203.3" cy="271.46" r="2.3"/><circle cx="230.9" cy="279.82" r="2.3"/><circle cx="203.3" cy="291.27" r="2.3"/><circle cx="230.9" cy="285.14" r="2.3"/><circle cx="203.3" cy="264.44" r="2.3"/><circle cx="230.9" cy="288.51" r="2.3"/><circle cx="203.3" cy="263.35" r="2.3"/><circle cx="230.9" cy="285.92" r="2.3"/><circle cx="203.3" cy="296.92" r="2.3"/><circle cx="230.9" cy="305.77" r="2.3"/><circle cx="203.3" cy="262.57" r="2.3"/><circle cx="230.9" cy="298.78" r="2.3"/><circle cx="203.3" cy="278.43" r="2.3"/><circle cx="230.9" cy="280.99" r="2.3"/><circle cx="203.3" cy="284.01" r="2.3"/><circle cx="230.9" cy="276.12" r="2.3"/><circle cx="203.3" cy="286.59" r="2.3"/><circle cx="230.9" cy="290.47" r="2.3"/><circle cx="203.3" cy="293.66" r="2.3"/><circle cx="230.9" cy="301.73" r="2.3"/><circle cx="203.3" cy="271.15" r="2.3"/><circle cx="230.9" cy="289.65" r="2.3"/><circle cx="203.3" cy="301.99" r="2.3"/><circle cx="230.9" cy="300.39" r="2.3"/><circle cx="203.3" cy="290.79" r="2.3"/><circle cx="230.9" cy="286.54" r="2.3"/><circle cx="203.3" cy="303.19" r="2.3"/><circle cx="230.9" cy="274.13" r="2.3"/><circle cx="203.3" cy="306.34" r="2.3"/><circle cx="230.9" cy="286.92" r="2.3"/><circle cx="203.3" cy="285.20" r="2.3"/><circle cx="230.9" cy="304.65" r="2.3"/><circle cx="203.3" cy="285.82" r="2.3"/><circle cx="230.9" cy="270.41" r="2.3"/><circle cx="203.3" cy="298.41" r="2.3"/><circle cx="230.9" cy="291.56" r="2.3"/><circle cx="203.3" cy="280.00" r="2.3"/><circle cx="230.9" cy="302.68" r="2.3"/><circle cx="203.3" cy="294.96" r="2.3"/><circle cx="230.9" cy="275.35" r="2.3"/><circle cx="203.3" cy="279.59" r="2.3"/><circle cx="230.9" cy="293.88" r="2.3"/><circle cx="203.3" cy="283.32" r="2.3"/><circle cx="230.9" cy="285.69" r="2.3"/><circle cx="203.3" cy="304.00" r="2.3"/><circle cx="230.9" cy="237.20" r="2.3"/><circle cx="203.3" cy="300.00" r="2.3"/><circle cx="230.9" cy="239.40" r="2.3"/><circle cx="203.3" cy="290.00" r="2.3"/><circle cx="230.9" cy="257.50" r="2.3"/><circle cx="203.3" cy="279.00" r="2.3"/><circle cx="230.9" cy="313.70" r="2.3"/><circle cx="203.3" cy="276.00" r="2.3"/><circle cx="230.9" cy="319.70" r="2.3"/></g>
<line x1="277.4" y1="278.8" x2="277.4" y2="288.6" stroke="#b4b4b4" stroke-width="1"/>
<line x1="277.4" y1="298" x2="277.4" y2="310.7" stroke="#b4b4b4" stroke-width="1"/>
<rect x="267.00" y="288.6" width="20.8" height="9.40" fill="none" stroke="#b0b0b0" stroke-width="1"/>
<line x1="267.00" y1="291.5" x2="287.80" y2="291.5" stroke="#a8a8a8" stroke-width="1.9"/>
<line x1="305.0" y1="277.6" x2="305.0" y2="283.4" stroke="#b4b4b4" stroke-width="1"/>
<line x1="305.0" y1="315" x2="305.0" y2="329.8" stroke="#b4b4b4" stroke-width="1"/>
<rect x="294.60" y="283.4" width="20.8" height="31.60" fill="none" stroke="#b0b0b0" stroke-width="1"/>
<line x1="294.60" y1="289.6" x2="315.40" y2="289.6" stroke="#a8a8a8" stroke-width="1.9"/>
<g stroke="#3C5488" stroke-width="0.6" stroke-opacity="0.75"><line x1="277.4" y1="278.80" x2="305.0" y2="291.20"/><line x1="277.4" y1="283.00" x2="305.0" y2="319.70"/><line x1="277.4" y1="285.30" x2="305.0" y2="324.20"/><line x1="277.4" y1="286.00" x2="305.0" y2="313.70"/><line x1="277.4" y1="287.00" x2="305.0" y2="329.80"/><line x1="277.4" y1="288.00" x2="305.0" y2="285.30"/><line x1="277.4" y1="289.00" x2="305.0" y2="233.00"/><line x1="277.4" y1="290.50" x2="305.0" y2="288.50"/><line x1="277.4" y1="291.70" x2="305.0" y2="289.50"/><line x1="277.4" y1="298.50" x2="305.0" y2="277.60"/><line x1="277.4" y1="310.70" x2="305.0" y2="279.30"/></g>
<g fill="#3C5488"><circle cx="277.4" cy="278.80" r="2.3"/><circle cx="305.0" cy="291.20" r="2.3"/><circle cx="277.4" cy="283.00" r="2.3"/><circle cx="305.0" cy="319.70" r="2.3"/><circle cx="277.4" cy="285.30" r="2.3"/><circle cx="305.0" cy="324.20" r="2.3"/><circle cx="277.4" cy="286.00" r="2.3"/><circle cx="305.0" cy="313.70" r="2.3"/><circle cx="277.4" cy="287.00" r="2.3"/><circle cx="305.0" cy="329.80" r="2.3"/><circle cx="277.4" cy="288.00" r="2.3"/><circle cx="305.0" cy="285.30" r="2.3"/><circle cx="277.4" cy="289.00" r="2.3"/><circle cx="305.0" cy="233.00" r="2.3"/><circle cx="277.4" cy="290.50" r="2.3"/><circle cx="305.0" cy="288.50" r="2.3"/><circle cx="277.4" cy="291.70" r="2.3"/><circle cx="305.0" cy="289.50" r="2.3"/><circle cx="277.4" cy="298.50" r="2.3"/><circle cx="305.0" cy="277.60" r="2.3"/><circle cx="277.4" cy="310.70" r="2.3"/><circle cx="305.0" cy="279.30" r="2.3"/></g>
<line x1="351.9" y1="266.8" x2="351.9" y2="282.2" stroke="#b4b4b4" stroke-width="1"/>
<line x1="351.9" y1="300.2" x2="351.9" y2="310.7" stroke="#b4b4b4" stroke-width="1"/>
<rect x="341.50" y="282.2" width="20.8" height="18.00" fill="none" stroke="#b0b0b0" stroke-width="1"/>
<line x1="341.50" y1="287" x2="362.30" y2="287" stroke="#a8a8a8" stroke-width="1.9"/>
<line x1="379.5" y1="256.1" x2="379.5" y2="279.3" stroke="#b4b4b4" stroke-width="1"/>
<line x1="379.5" y1="290" x2="379.5" y2="295.1" stroke="#b4b4b4" stroke-width="1"/>
<rect x="369.10" y="279.3" width="20.8" height="10.70" fill="none" stroke="#b0b0b0" stroke-width="1"/>
<line x1="369.10" y1="287.8" x2="389.90" y2="287.8" stroke="#a8a8a8" stroke-width="1.9"/>
<g stroke="#F39B7F" stroke-width="0.6" stroke-opacity="0.65"><line x1="351.9" y1="266.80" x2="379.5" y2="290.00"/><line x1="351.9" y1="269.70" x2="379.5" y2="277.60"/><line x1="351.9" y1="276.40" x2="379.5" y2="289.00"/><line x1="351.9" y1="277.10" x2="379.5" y2="266.30"/><line x1="351.9" y1="279.00" x2="379.5" y2="293.00"/><line x1="351.9" y1="282.70" x2="379.5" y2="284.00"/><line x1="351.9" y1="284.00" x2="379.5" y2="256.10"/><line x1="351.9" y1="285.00" x2="379.5" y2="273.90"/><line x1="351.9" y1="286.00" x2="379.5" y2="295.10"/><line x1="351.9" y1="287.00" x2="379.5" y2="280.00"/><line x1="351.9" y1="288.00" x2="379.5" y2="291.00"/><line x1="351.9" y1="289.00" x2="379.5" y2="282.00"/><line x1="351.9" y1="290.00" x2="379.5" y2="287.00"/><line x1="351.9" y1="291.00" x2="379.5" y2="292.00"/><line x1="351.9" y1="292.00" x2="379.5" y2="278.00"/><line x1="351.9" y1="293.70" x2="379.5" y2="283.00"/><line x1="351.9" y1="301.40" x2="379.5" y2="266.30"/><line x1="351.9" y1="303.00" x2="379.5" y2="277.60"/><line x1="351.9" y1="304.70" x2="379.5" y2="285.00"/><line x1="351.9" y1="306.00" x2="379.5" y2="288.00"/><line x1="351.9" y1="310.70" x2="379.5" y2="290.00"/><line x1="351.9" y1="283.50" x2="379.5" y2="286.00"/><line x1="351.9" y1="287.50" x2="379.5" y2="289.00"/><line x1="351.9" y1="289.50" x2="379.5" y2="294.00"/><line x1="351.9" y1="291.50" x2="379.5" y2="281.00"/></g>
<g fill="#F39B7F"><circle cx="351.9" cy="266.80" r="2.3"/><circle cx="379.5" cy="290.00" r="2.3"/><circle cx="351.9" cy="269.70" r="2.3"/><circle cx="379.5" cy="277.60" r="2.3"/><circle cx="351.9" cy="276.40" r="2.3"/><circle cx="379.5" cy="289.00" r="2.3"/><circle cx="351.9" cy="277.10" r="2.3"/><circle cx="379.5" cy="266.30" r="2.3"/><circle cx="351.9" cy="279.00" r="2.3"/><circle cx="379.5" cy="293.00" r="2.3"/><circle cx="351.9" cy="282.70" r="2.3"/><circle cx="379.5" cy="284.00" r="2.3"/><circle cx="351.9" cy="284.00" r="2.3"/><circle cx="379.5" cy="256.10" r="2.3"/><circle cx="351.9" cy="285.00" r="2.3"/><circle cx="379.5" cy="273.90" r="2.3"/><circle cx="351.9" cy="286.00" r="2.3"/><circle cx="379.5" cy="295.10" r="2.3"/><circle cx="351.9" cy="287.00" r="2.3"/><circle cx="379.5" cy="280.00" r="2.3"/><circle cx="351.9" cy="288.00" r="2.3"/><circle cx="379.5" cy="291.00" r="2.3"/><circle cx="351.9" cy="289.00" r="2.3"/><circle cx="379.5" cy="282.00" r="2.3"/><circle cx="351.9" cy="290.00" r="2.3"/><circle cx="379.5" cy="287.00" r="2.3"/><circle cx="351.9" cy="291.00" r="2.3"/><circle cx="379.5" cy="292.00" r="2.3"/><circle cx="351.9" cy="292.00" r="2.3"/><circle cx="379.5" cy="278.00" r="2.3"/><circle cx="351.9" cy="293.70" r="2.3"/><circle cx="379.5" cy="283.00" r="2.3"/><circle cx="351.9" cy="301.40" r="2.3"/><circle cx="379.5" cy="266.30" r="2.3"/><circle cx="351.9" cy="303.00" r="2.3"/><circle cx="379.5" cy="277.60" r="2.3"/><circle cx="351.9" cy="304.70" r="2.3"/><circle cx="379.5" cy="285.00" r="2.3"/><circle cx="351.9" cy="306.00" r="2.3"/><circle cx="379.5" cy="288.00" r="2.3"/><circle cx="351.9" cy="310.70" r="2.3"/><circle cx="379.5" cy="290.00" r="2.3"/><circle cx="351.9" cy="283.50" r="2.3"/><circle cx="379.5" cy="286.00" r="2.3"/><circle cx="351.9" cy="287.50" r="2.3"/><circle cx="379.5" cy="289.00" r="2.3"/><circle cx="351.9" cy="289.50" r="2.3"/><circle cx="379.5" cy="294.00" r="2.3"/><circle cx="351.9" cy="291.50" r="2.3"/><circle cx="379.5" cy="281.00" r="2.3"/></g>
<path d="M54.4,256.5 L54.4,255 L82.0,255 L82.0,256.5" fill="none" stroke="#333" stroke-width="0.95"/>
<text x="68.20" y="252.70" font-size="10.3" text-anchor="middle" font-weight="normal" font-style="normal" fill="#111" stroke="#111" stroke-width="0.12" font-family='"Liberation Sans", sans-serif' >ns</text>
<path d="M128.9,239.7 L128.9,238.2 L156.5,238.2 L156.5,239.7" fill="none" stroke="#333" stroke-width="0.95"/>
<text x="142.70" y="235.90" font-size="10.3" text-anchor="middle" font-weight="normal" font-style="normal" fill="#111" stroke="#111" stroke-width="0.12" font-family='"Liberation Sans", sans-serif' >ns</text>
<path d="M203.3,233.2 L203.3,231.7 L230.9,231.7 L230.9,233.2" fill="none" stroke="#333" stroke-width="0.95"/>
<text x="217.10" y="233.00" font-size="11" text-anchor="middle" font-weight="normal" font-style="normal" fill="#333" stroke="#333" stroke-width="0.12" font-family='"Liberation Sans", sans-serif' >**</text>
<path d="M277.4,229.0 L277.4,227.5 L305.0,227.5 L305.0,229.0" fill="none" stroke="#333" stroke-width="0.95"/>
<text x="291.20" y="225.20" font-size="10.3" text-anchor="middle" font-weight="normal" font-style="normal" fill="#111" stroke="#111" stroke-width="0.12" font-family='"Liberation Sans", sans-serif' >ns</text>
<path d="M351.9,252.7 L351.9,251.2 L379.5,251.2 L379.5,252.7" fill="none" stroke="#333" stroke-width="0.95"/>
<text x="365.70" y="248.90" font-size="10.3" text-anchor="middle" font-weight="normal" font-style="normal" fill="#111" stroke="#111" stroke-width="0.12" font-family='"Liberation Sans", sans-serif' >ns</text>
<text x="447.60" y="30.80" font-size="19.5" text-anchor="start" font-weight="bold" font-style="normal" fill="#000" font-family='"Liberation Sans", sans-serif' >c</text>
<line x1="494.4" y1="57.7" x2="494.4" y2="216.6" stroke="#1a1a1a" stroke-width="1.5"/>
<line x1="493.7" y1="215.9" x2="685" y2="215.9" stroke="#1a1a1a" stroke-width="1.5"/>
<line x1="491.3" y1="64.60" x2="494.4" y2="64.60" stroke="#1a1a1a" stroke-width="1.2"/>
<text x="488.20" y="68.80" font-size="10" text-anchor="end" font-weight="normal" font-style="normal" fill="#111" stroke="#111" stroke-width="0.12" font-family='"Liberation Sans", sans-serif' >6</text>
<line x1="676.32" y1="216" x2="676.32" y2="218.8" stroke="#1a1a1a" stroke-width="1.2"/>
<text x="676.32" y="229.80" font-size="10" text-anchor="middle" font-weight="normal" font-style="normal" fill="#111" stroke="#111" stroke-width="0.12" font-family='"Liberation Sans", sans-serif' >6</text>
<line x1="491.3" y1="100.75" x2="494.4" y2="100.75" stroke="#1a1a1a" stroke-width="1.2"/>
<text x="488.20" y="104.95" font-size="10" text-anchor="end" font-weight="normal" font-style="normal" fill="#111" stroke="#111" stroke-width="0.12" font-family='"Liberation Sans", sans-serif' >3</text>
<line x1="632.91" y1="216" x2="632.91" y2="218.8" stroke="#1a1a1a" stroke-width="1.2"/>
<text x="632.91" y="229.80" font-size="10" text-anchor="middle" font-weight="normal" font-style="normal" fill="#111" stroke="#111" stroke-width="0.12" font-family='"Liberation Sans", sans-serif' >3</text>
<line x1="491.3" y1="136.90" x2="494.4" y2="136.90" stroke="#1a1a1a" stroke-width="1.2"/>
<text x="488.20" y="141.10" font-size="10" text-anchor="end" font-weight="normal" font-style="normal" fill="#111" stroke="#111" stroke-width="0.12" font-family='"Liberation Sans", sans-serif' >0</text>
<line x1="589.50" y1="216" x2="589.50" y2="218.8" stroke="#1a1a1a" stroke-width="1.2"/>
<text x="589.50" y="229.80" font-size="10" text-anchor="middle" font-weight="normal" font-style="normal" fill="#111" stroke="#111" stroke-width="0.12" font-family='"Liberation Sans", sans-serif' >0</text>
<line x1="491.3" y1="173.05" x2="494.4" y2="173.05" stroke="#1a1a1a" stroke-width="1.2"/>
<text x="488.20" y="177.25" font-size="10" text-anchor="end" font-weight="normal" font-style="normal" fill="#111" stroke="#111" stroke-width="0.12" font-family='"Liberation Sans", sans-serif' >-3</text>
<line x1="546.09" y1="216" x2="546.09" y2="218.8" stroke="#1a1a1a" stroke-width="1.2"/>
<text x="544.89" y="229.80" font-size="10" text-anchor="middle" font-weight="normal" font-style="normal" fill="#111" stroke="#111" stroke-width="0.12" font-family='"Liberation Sans", sans-serif' >-3</text>
<line x1="491.3" y1="209.20" x2="494.4" y2="209.20" stroke="#1a1a1a" stroke-width="1.2"/>
<text x="488.20" y="213.40" font-size="10" text-anchor="end" font-weight="normal" font-style="normal" fill="#111" stroke="#111" stroke-width="0.12" font-family='"Liberation Sans", sans-serif' >-6</text>
<line x1="502.68" y1="216" x2="502.68" y2="218.8" stroke="#1a1a1a" stroke-width="1.2"/>
<text x="501.48" y="229.80" font-size="10" text-anchor="middle" font-weight="normal" font-style="normal" fill="#111" stroke="#111" stroke-width="0.12" font-family='"Liberation Sans", sans-serif' >-6</text>
<text x="0.00" y="0.00" font-size="13" text-anchor="middle" font-weight="normal" font-style="normal" fill="#111" stroke="#111" stroke-width="0.12" font-family='"Liberation Sans", sans-serif' transform="translate(470.3,136.3) rotate(-90)">Median fitness maintenance</text>
<text x="590.00" y="248.00" font-size="13" text-anchor="middle" font-weight="normal" font-style="normal" fill="#111" stroke="#111" stroke-width="0.12" font-family='"Liberation Sans", sans-serif' >Median fitness chemotherapy</text>
<line x1="496.17" y1="214.62" x2="685.00" y2="57.37" stroke="#444" stroke-width="1.3" stroke-dasharray="4.6,3.4"/>
<circle cx="586.6" cy="133.3" r="2.7" fill="#3C5488"/>
<circle cx="608.0" cy="152.5" r="2.0" fill="#E64B35"/>
<circle cx="602.9" cy="125.4" r="3.3" fill="#F39B7F"/>
<circle cx="599.5" cy="132.9" r="5.0" fill="#4DBBD5"/>
<circle cx="617.2" cy="132.2" r="7.7" fill="#00A087"/>
<ellipse cx="602.9" cy="125.6" rx="3.1" ry="3.6" fill="#F39B7F"/>
<g stroke="#4DBBD5" stroke-width="1.25" fill="none"><line x1="586.0" y1="133.6" x2="615.8" y2="133.6"/><line x1="586.0" y1="132.1" x2="586.0" y2="135.1"/><line x1="615.8" y1="132.1" x2="615.8" y2="135.1"/><line x1="599.5" y1="121.3" x2="599.5" y2="144.9"/><line x1="598.0" y1="121.3" x2="601.0" y2="121.3"/><line x1="598.0" y1="144.9" x2="601.0" y2="144.9"/></g>
<g stroke="#3C5488" stroke-width="1.25" fill="none"><line x1="566.4" y1="133.3" x2="597.6" y2="133.3"/><line x1="566.4" y1="131.8" x2="566.4" y2="134.8"/><line x1="597.6" y1="131.8" x2="597.6" y2="134.8"/><line x1="586.6" y1="115.6" x2="586.6" y2="201.6"/><line x1="585.1" y1="115.6" x2="588.1" y2="115.6"/><line x1="585.1" y1="201.6" x2="588.1" y2="201.6"/></g>
<g stroke="#F39B7F" stroke-width="1.25" fill="none"><line x1="561.2" y1="125.4" x2="618.3" y2="125.4"/><line x1="561.2" y1="123.9" x2="561.2" y2="126.9"/><line x1="618.3" y1="123.9" x2="618.3" y2="126.9"/><line x1="602.9" y1="103.4" x2="602.9" y2="131"/><line x1="601.4" y1="103.4" x2="604.4" y2="103.4"/></g>
<g stroke="#E64B35" stroke-width="1.25" fill="none"><line x1="601.9" y1="152.5" x2="620.4" y2="152.5"/><line x1="601.9" y1="151.0" x2="601.9" y2="154.0"/><line x1="620.4" y1="151.0" x2="620.4" y2="154.0"/><line x1="608.0" y1="103.9" x2="608.0" y2="165.3"/><line x1="606.5" y1="103.9" x2="609.5" y2="103.9"/><line x1="606.5" y1="165.3" x2="609.5" y2="165.3"/></g>
<g stroke="#00A087" stroke-width="1.25" fill="none"><line x1="591.2" y1="132.2" x2="646" y2="132.2"/><line x1="591.2" y1="130.7" x2="591.2" y2="133.7"/><line x1="646" y1="130.7" x2="646" y2="133.7"/><line x1="617.2" y1="118.3" x2="617.2" y2="141.1"/><line x1="615.7" y1="118.3" x2="618.7" y2="118.3"/><line x1="615.7" y1="141.1" x2="618.7" y2="141.1"/></g>
<text x="504.90" y="281.40" font-size="12.5" text-anchor="start" font-weight="normal" font-style="normal" fill="#111" stroke="#111" stroke-width="0.12" font-family='"Liberation Sans", sans-serif' >Gene</text>
<circle cx="507.4" cy="294.30" r="2.5" fill="#E64B35"/>
<text x="517.30" y="297.90" font-size="10.5" text-anchor="start" font-weight="normal" font-style="italic" fill="#111" stroke="#111" stroke-width="0.12" font-family='"Liberation Sans", sans-serif' >CHEK2</text>
<circle cx="507.4" cy="304.05" r="2.5" fill="#4DBBD5"/>
<text x="517.30" y="307.65" font-size="10.5" text-anchor="start" font-weight="normal" font-style="italic" fill="#111" stroke="#111" stroke-width="0.12" font-family='"Liberation Sans", sans-serif' >DNMT3A</text>
<circle cx="507.4" cy="313.80" r="2.5" fill="#00A087"/>
<text x="517.30" y="317.40" font-size="10.5" text-anchor="start" font-weight="normal" font-style="italic" fill="#111" stroke="#111" stroke-width="0.12" font-family='"Liberation Sans", sans-serif' >PPM1D</text>
<circle cx="507.4" cy="323.55" r="2.5" fill="#3C5488"/>
<text x="517.30" y="327.15" font-size="10.5" text-anchor="start" font-weight="normal" font-style="italic" fill="#111" stroke="#111" stroke-width="0.12" font-family='"Liberation Sans", sans-serif' >TET2</text>
<circle cx="507.4" cy="333.30" r="2.5" fill="#F39B7F"/>
<text x="517.30" y="336.90" font-size="10.5" text-anchor="start" font-weight="normal" font-style="italic" fill="#111" stroke="#111" stroke-width="0.12" font-family='"Liberation Sans", sans-serif' >TP53</text>
<text x="590.60" y="281.70" font-size="12.6" text-anchor="start" font-weight="normal" font-style="normal" fill="#111" stroke="#111" stroke-width="0.12" font-family='"Liberation Sans", sans-serif' textLength="76.6" lengthAdjust="spacingAndGlyphs" >No. of clones</text>
<circle cx="600" cy="294.4" r="4.0" fill="#000"/>
<text x="616.60" y="298.20" font-size="10.2" text-anchor="start" font-weight="normal" font-style="italic" fill="#111" stroke="#111" stroke-width="0.12" font-family='"Liberation Sans", sans-serif' >20</text>
<circle cx="600" cy="305.6" r="5.75" fill="#000"/>
<text x="616.60" y="309.40" font-size="10.2" text-anchor="start" font-weight="normal" font-style="italic" fill="#111" stroke="#111" stroke-width="0.12" font-family='"Liberation Sans", sans-serif' >40</text>
<circle cx="600" cy="320.5" r="6.9" fill="#000"/>
<text x="616.60" y="324.30" font-size="10.2" text-anchor="start" font-weight="normal" font-style="italic" fill="#111" stroke="#111" stroke-width="0.12" font-family='"Liberation Sans", sans-serif' >60</text>
<circle cx="600" cy="337.9" r="8.0" fill="#000"/>
<text x="616.60" y="341.70" font-size="10.2" text-anchor="start" font-weight="normal" font-style="italic" fill="#111" stroke="#111" stroke-width="0.12" font-family='"Liberation Sans", sans-serif' >80</text>
</svg>
</body></html>
